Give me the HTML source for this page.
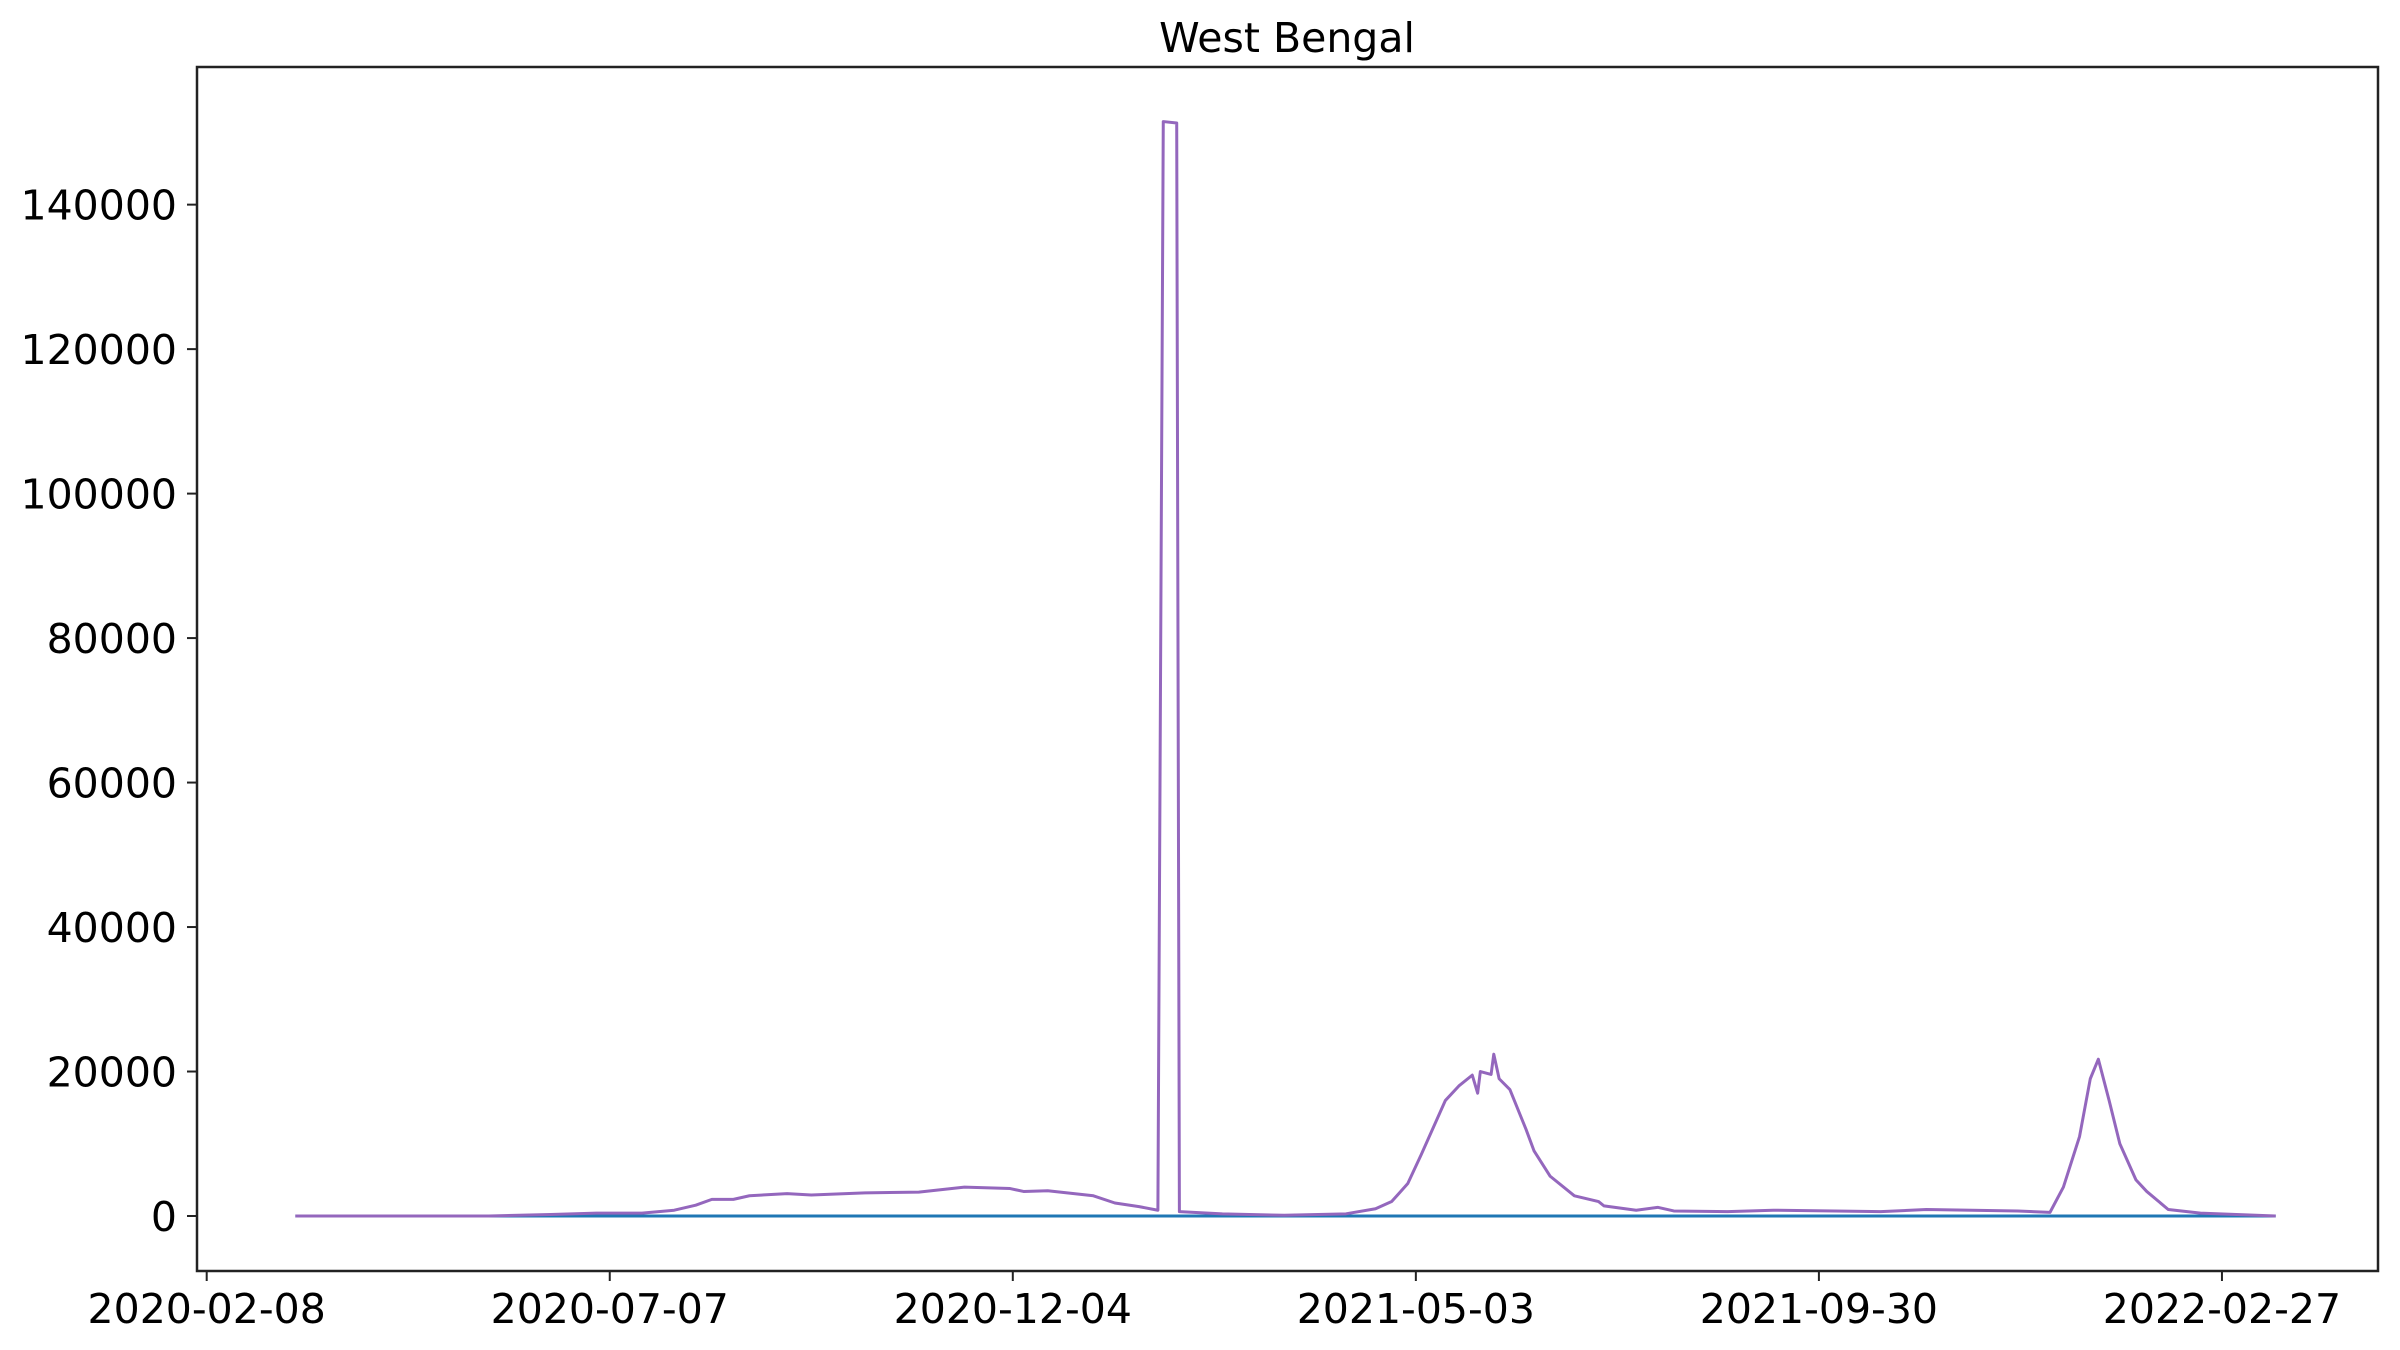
<!DOCTYPE html>
<html><head><meta charset="utf-8"><style>
body{margin:0;background:#fff;}
svg{display:block;font-family:"DejaVu Sans","Liberation Sans",sans-serif;}
</style></head><body>
<svg id="chart" width="2400" height="1350">
<text x="1287" y="52" font-size="41" text-anchor="middle">West Bengal</text>
<g id="yaxis"></g>
<g id="xaxis"></g>
<g id="series"></g>
<rect x="197" y="67" width="2181" height="1204" fill="none" stroke="#222" stroke-width="2.5"/>
</svg>
<script>
const days = [33,105,128,145,162,174,182,188,196,202,216,225,245,265,282,299,304,313,330,338,347,354,356,361,362,378,401,424,435,441,447,452,461,466,471,473,474,478,479,481,485,491,494,500,509,518,520,532,540,546,566,583,606,623,640,657,674,686,691,697,701,704,708,712,718,722,730,742,770];
const purpleValues = [0,0,200,400,400,800,1500,2300,2300,2800,3100,2900,3200,3300,4000,3800,3400,3500,2800,1800,1300,800,151500,151300,600,300,100,300,1000,2000,4500,8500,16000,18000,19500,17000,20000,19600,22400,19000,17500,12000,9000,5500,2800,2000,1400,800,1200,700,600,800,700,600,900,800,700,500,4000,11000,19000,21700,16000,10000,5000,3400,900,400,0];
const blueDays = [33,770];
const blueValues = [0,0];
const yTicks = [0,20000,40000,60000,80000,100000,120000,140000];
const xTickDays = [0,150,300,450,600,750];
const xTickLabels = ["2020-02-08","2020-07-07","2020-12-04","2021-05-03","2021-09-30","2022-02-27"];

const NS="http://www.w3.org/2000/svg";
const xs = d => 206.7 + d*2.687;
const ys = v => 1216 - v*0.007224;
function mk(tag, attrs, parent){const e=document.createElementNS(NS,tag);for(const k in attrs)e.setAttribute(k,attrs[k]);parent.appendChild(e);return e;}
const ya=document.getElementById('yaxis'), xa=document.getElementById('xaxis'), se=document.getElementById('series');
yTicks.forEach(v=>{
  const t=mk('line',{x1:187,x2:197,y1:ys(v),y2:ys(v),stroke:'#222','stroke-width':2},ya);
  
  
  const l=mk('text',{x:177,y:ys(v)+15,'font-size':41,'text-anchor':'end'},ya);
  l.textContent=v;
  
  
});
xTickDays.forEach((d,i)=>{
  const t=mk('line',{x1:xs(d),x2:xs(d),y1:1271,y2:1281,stroke:'#222','stroke-width':2},xa);
  
  
  const l=mk('text',{x:xs(d),y:1323,'font-size':41,'text-anchor':'middle'},xa);
  l.textContent=xTickLabels[i];
  
  
});
const bl=mk('polyline',{points:blueDays.map((d,i)=>xs(d)+','+ys(blueValues[i])).join(' '),fill:'none',stroke:'#1f77b4','stroke-width':3},se);


const pl=mk('polyline',{points:days.map((d,i)=>xs(d)+','+ys(purpleValues[i])).join(' '),fill:'none',stroke:'#9467bd','stroke-width':3,'stroke-linejoin':'round'},se);


</script>
</body></html>
